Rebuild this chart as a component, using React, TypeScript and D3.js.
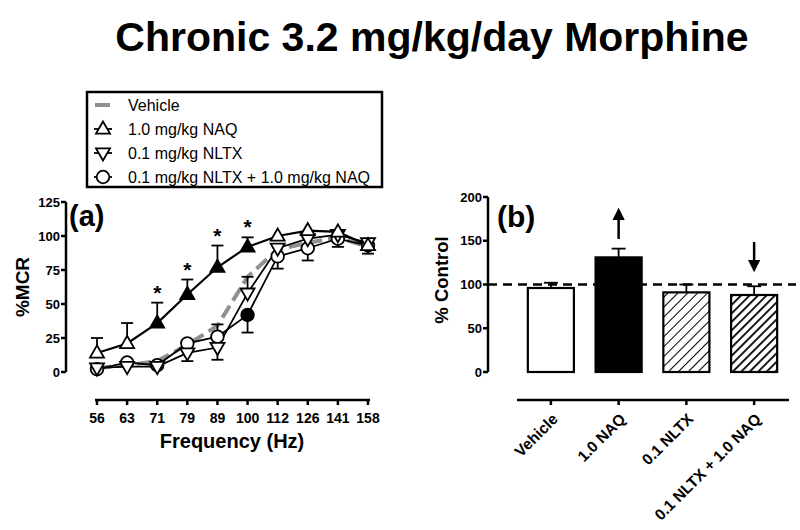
import React from "react";
import * as d3 from "d3";

const freqs = ["56", "63", "71", "79", "89", "100", "112", "126", "141", "158"];
const vehicle = [3, 5, 8, 20, 34, 70, 90, 95, 99, 92];
const naq = [14, 21, 36, 57, 77, 92, 100, 104, 103, 93];
const naqErr = [11, 15, 15, 11, 16, 7, 0, 0, 0, 0];
const naqFilled = [false, false, true, true, true, true, false, false, false, false];
const nltx = [3, 4, 4, 14, 18, 58, 91, 98, 101, 95];
const nltxErr = [0, 0, 0, -6, -9, 12, 0, 0, 0, 0];
const combo = [2, 7, 5, 21, 26, 42, 85, 91, 98, 93];
const comboErr = [0, 0, -2, 0, 9, -13, -9, -9, -6, -6];
const comboFilled = [false, false, false, false, false, true, false, false, false, false];
const stars = [false, false, true, true, true, true, false, false, false, false];
const yTicksA = [0, 25, 50, 75, 100, 125];

const groups = ["Vehicle", "1.0 NAQ", "0.1 NLTX", "0.1 NLTX + 1.0 NAQ"];
const pct = [96, 131, 91, 88];
const pctErr = [6, 10, 9, 10];
const yTicksB = [0, 50, 100, 150, 200];

const legendLabels = ["Vehicle", "1.0 mg/kg NAQ", "0.1 mg/kg NLTX", "0.1 mg/kg NLTX + 1.0 mg/kg NAQ"];

const FONT = "'Liberation Sans', Arial, sans-serif";

function Tri({ x, y, up, filled }: { x: number; y: number; up: boolean; filled: boolean }) {
  const s = 14;
  const h = s * 0.87;
  const pts = up
    ? [[x, y - h * 0.62], [x - s / 2, y + h * 0.38], [x + s / 2, y + h * 0.38]]
    : [[x, y + h * 0.62], [x - s / 2, y - h * 0.38], [x + s / 2, y - h * 0.38]];
  return (
    <polygon
      points={pts.map((p) => p.join(",")).join(" ")}
      fill={filled ? "#000" : "#fff"}
      stroke="#000"
      strokeWidth={1.8}
    />
  );
}

function Circ({ x, y, filled }: { x: number; y: number; filled: boolean }) {
  return <circle cx={x} cy={y} r={6.3} fill={filled ? "#000" : "#fff"} stroke="#000" strokeWidth={1.8} />;
}

export default function App() {
  // Panel (a)
  const xA = d3.scalePoint<string>().domain(freqs).range([97, 368]);
  const yA = d3.scaleLinear().domain([0, 125]).range([372, 202]);
  const lineA = d3
    .line<number>()
    .x((_, i) => xA(freqs[i]) as number)
    .y((d) => yA(d));

  // Panel (b)
  const xB = d3.scaleBand<string>().domain(groups).range([517, 788]).paddingInner(0.32).paddingOuter(0.16);
  const yB = d3.scaleLinear().domain([0, 200]).range([372, 197]);

  const errBar = (x: number, v: number, e: number, sc: d3.ScaleLinear<number, number>, cap: number, key: string) => {
    if (!e) return null;
    const y0 = sc(v);
    const y1 = sc(v + e);
    return (
      <g key={key} stroke="#000" strokeWidth={1.8}>
        <line x1={x} x2={x} y1={y0} y2={y1} />
        <line x1={x - cap / 2} x2={x + cap / 2} y1={y1} y2={y1} />
      </g>
    );
  };

  const hatch = (id: string, sw: number, gap: number) => (
    <pattern id={id} patternUnits="userSpaceOnUse" width={gap} height={gap} patternTransform="rotate(45)">
      <rect width={gap} height={gap} fill="#fff" />
      <line x1={0} y1={0} x2={0} y2={gap} stroke="#000" strokeWidth={sw} />
    </pattern>
  );

  return (
    <svg
      width={800}
      height={530}
      style={{ position: "absolute", left: 0, top: 0, background: "#fff" }}
      fontFamily={FONT}
    >
      <defs>
        {hatch("hatchA", 2, 7)}
        {hatch("hatchB", 3.6, 6)}
        <marker id="ah" viewBox="0 0 10 10" refX={5} refY={5} markerWidth={5} markerHeight={5} orient="auto">
          <path d="M0,0 L10,5 L0,10 z" fill="#000" />
        </marker>
      </defs>
      <rect width={800} height={530} fill="#fff" />

      {/* Title */}
      <text x={432} y={51} textAnchor="middle" fontSize={41} fontWeight="bold">
        Chronic 3.2 mg/kg/day Morphine
      </text>

      {/* Legend */}
      <rect x={87} y={92} width={295} height={95} fill="#fff" stroke="#000" strokeWidth={2.5} />
      {legendLabels.map((lab, i) => {
        const cy = 105 + i * 24;
        return (
          <g key={lab}>
            {i === 0 ? (
              <line x1={95} x2={110} y1={cy} y2={cy} stroke="#909090" strokeWidth={4} />
            ) : (
              <g>
                <line x1={94} x2={112} y1={cy} y2={cy} stroke="#000" strokeWidth={1.8} />
                {i === 1 && <Tri x={103} y={cy} up={true} filled={false} />}
                {i === 2 && <Tri x={103} y={cy} up={false} filled={false} />}
                {i === 3 && <Circ x={103} y={cy} filled={false} />}
              </g>
            )}
            <text x={128} y={cy + 6} fontSize={16}>
              {lab}
            </text>
          </g>
        );
      })}

      {/* Panel (a) axes */}
      <g>
        <line x1={66} x2={66} y1={yA(125)} y2={yA(0)} stroke="#000" strokeWidth={2.5} />
        {yTicksA.map((t) => (
          <g key={t}>
            <line x1={61} x2={66} y1={yA(t)} y2={yA(t)} stroke="#000" strokeWidth={2.5} />
            <text x={60} y={yA(t) + 4.5} textAnchor="end" fontSize={13} fontWeight="bold">
              {t}
            </text>
          </g>
        ))}
        <line x1={95} x2={370} y1={400} y2={400} stroke="#000" strokeWidth={2.5} />
        {freqs.map((f) => (
          <g key={f}>
            <line x1={xA(f)} x2={xA(f)} y1={400} y2={405} stroke="#000" strokeWidth={2.5} />
            <text x={xA(f)} y={423} textAnchor="middle" fontSize={14} fontWeight="bold">
              {f}
            </text>
          </g>
        ))}
        <text x={232} y={448} textAnchor="middle" fontSize={20} fontWeight="bold">
          Frequency (Hz)
        </text>
        <text
          transform={`translate(29,${287}) rotate(-90)`}
          textAnchor="middle"
          fontSize={19}
          fontWeight="bold"
        >
          %MCR
        </text>
        <text x={69} y={226} fontSize={29} fontWeight="bold">
          (a)
        </text>
      </g>

      {/* Panel (a) data */}
      <path d={lineA(vehicle) || ""} fill="none" stroke="#909090" strokeWidth={4} strokeDasharray="14,6" />
      {freqs.map((f, i) => errBar(xA(f) as number, naq[i], naqErr[i], yA, 12, "en" + i))}
      {freqs.map((f, i) => errBar(xA(f) as number, nltx[i], nltxErr[i], yA, 12, "el" + i))}
      {freqs.map((f, i) => errBar(xA(f) as number, combo[i], comboErr[i], yA, 12, "ec" + i))}
      <path d={lineA(combo) || ""} fill="none" stroke="#000" strokeWidth={1.8} />
      <path d={lineA(nltx) || ""} fill="none" stroke="#000" strokeWidth={1.8} />
      <path d={lineA(naq) || ""} fill="none" stroke="#000" strokeWidth={2.2} />
      {freqs.map((f, i) => (
        <Circ key={"c" + i} x={xA(f) as number} y={yA(combo[i])} filled={comboFilled[i]} />
      ))}
      {freqs.map((f, i) => (
        <Tri key={"d" + i} x={xA(f) as number} y={yA(nltx[i])} up={false} filled={false} />
      ))}
      {freqs.map((f, i) => (
        <Tri key={"u" + i} x={xA(f) as number} y={yA(naq[i])} up={true} filled={naqFilled[i]} />
      ))}
      {freqs.map((f, i) =>
        stars[i] ? (
          <text
            key={"s" + i}
            x={xA(f) as number}
            y={yA(naq[i] + naqErr[i]) - 3}
            textAnchor="middle"
            fontSize={21}
            fontWeight="bold"
          >
            *
          </text>
        ) : null
      )}

      {/* Panel (b) axes */}
      <g>
        <line x1={488} x2={488} y1={yB(200)} y2={yB(0)} stroke="#000" strokeWidth={2.5} />
        {yTicksB.map((t) => (
          <g key={t}>
            <line x1={483} x2={488} y1={yB(t)} y2={yB(t)} stroke="#000" strokeWidth={2.5} />
            <text x={482} y={yB(t) + 4.5} textAnchor="end" fontSize={13} fontWeight="bold">
              {t}
            </text>
          </g>
        ))}
        <line x1={517} x2={789} y1={400} y2={400} stroke="#000" strokeWidth={2.5} />
        {groups.map((g) => {
          const cx = (xB(g) as number) + xB.bandwidth() / 2;
          return (
            <g key={g}>
              <line x1={cx} x2={cx} y1={400} y2={405} stroke="#000" strokeWidth={2.5} />
              <text
                transform={`translate(${cx + 8},${420}) rotate(-45)`}
                textAnchor="end"
                fontSize={15.5}
                fontWeight="bold"
              >
                {g}
              </text>
            </g>
          );
        })}
        <text
          transform={`translate(448,${280}) rotate(-90)`}
          textAnchor="middle"
          fontSize={18.5}
          fontWeight="bold"
        >
          % Control
        </text>
        <text x={497} y={227} fontSize={30} fontWeight="bold">
          (b)
        </text>
      </g>

      {/* Panel (b) bars */}
      {groups.map((g, i) => {
        const x = xB(g) as number;
        const w = xB.bandwidth();
        const fill = i === 0 ? "#fff" : i === 1 ? "#000" : i === 2 ? "url(#hatchA)" : "url(#hatchB)";
        return (
          <g key={g}>
            {errBar(x + w / 2, pct[i], pctErr[i], yB, 14, "b" + i)}
            <rect x={x} y={yB(pct[i])} width={w} height={yB(0) - yB(pct[i])} fill={fill} stroke="#000" strokeWidth={2.2} />
          </g>
        );
      })}
      <line x1={488} x2={796} y1={yB(100)} y2={yB(100)} stroke="#000" strokeWidth={2.5} strokeDasharray="9,6" />
      {/* arrows */}
      <line
        x1={(xB("1.0 NAQ") as number) + xB.bandwidth() / 2}
        x2={(xB("1.0 NAQ") as number) + xB.bandwidth() / 2}
        y1={239}
        y2={214}
        stroke="#000"
        strokeWidth={2.5}
        markerEnd="url(#ah)"
      />
      <line
        x1={(xB("0.1 NLTX + 1.0 NAQ") as number) + xB.bandwidth() / 2}
        x2={(xB("0.1 NLTX + 1.0 NAQ") as number) + xB.bandwidth() / 2}
        y1={242}
        y2={266}
        stroke="#000"
        strokeWidth={2.5}
        markerEnd="url(#ah)"
      />
    </svg>
  );
}
